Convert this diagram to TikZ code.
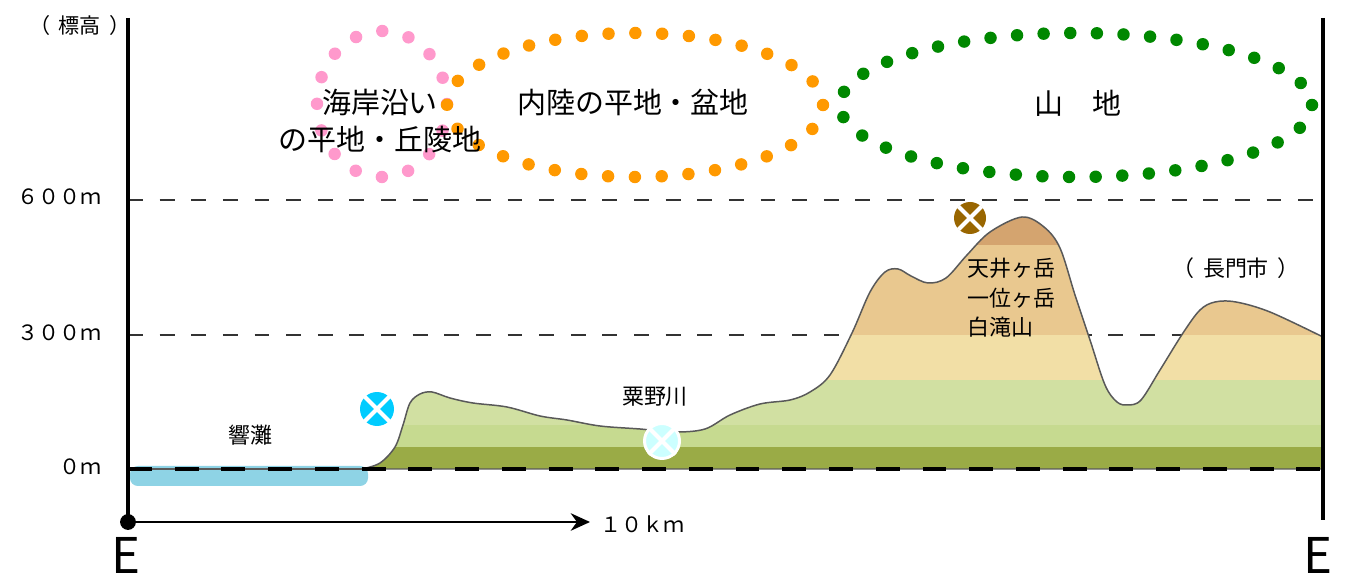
\documentclass[tikz,border=0pt]{standalone}
\usepackage{fontspec}
\setmainfont{Noto Sans CJK JP}
\usetikzlibrary{arrows.meta}

\definecolor{coastpink}{HTML}{FF99CC}
\definecolor{inlandorange}{HTML}{FF9900}
\definecolor{mountgreen}{HTML}{008800}
\definecolor{seablue}{HTML}{8ED3E5}
\definecolor{bandA}{HTML}{9AAB46}
\definecolor{bandB}{HTML}{C6DA90}
\definecolor{bandC}{HTML}{D1E0A2}
\definecolor{bandD}{HTML}{F2DFA6}
\definecolor{bandE}{HTML}{E9C88F}
\definecolor{bandF}{HTML}{D4A46F}
\definecolor{nadacyan}{HTML}{00CCFF}
\definecolor{rivercyan}{HTML}{CCFFFF}
\definecolor{peakbrown}{HTML}{996600}

\newcommand{\wideparen}[1]{（\hspace{5pt}#1\hspace{5pt}）}

\tikzset{
  frameline/.style={line width=2.3pt},
  heightline/.style={black!80, line width=0.8pt, dash pattern=on 8.5pt off 9.5pt},
  sealevel/.style={line width=2.8pt, dash pattern=on 13.6pt off 13pt},
  ridgeline/.style={draw=black!65, line width=0.85pt},
  dotring/.style={line width=7.1pt, line cap=round, dash pattern=on 0pt off #1},
  spot/.style={circle, inner sep=0pt, minimum size=#1},
  bigtext/.style={font=\fontsize{16.5}{21}\selectfont},
  smalltext/.style={font=\fontsize{12.5}{16.7}\selectfont},
  scaletext/.style={font=\fontsize{12}{14}\selectfont},
}

\begin{document}
\begin{tikzpicture}[x=0.02cm, y=-0.02cm]
\useasboundingbox (0,0) rectangle (1349,580);

% dotted rings for the three zones
\draw[dotring=15.45pt, coastpink] (382,104) ellipse [x radius=65, y radius=73];
\draw[dotring=15.27pt, inlandorange] (635,105) ellipse [x radius=188, y radius=72];
\draw[dotring=15.16pt, mountgreen] (1076,105) ellipse [x radius=236, y radius=72];
\node[bigtext, align=center] (coast) at (380,121) {海岸沿い\\の平地・丘陵地};
\node[bigtext] (inland) at (633,103) {内陸の平地・盆地};
\node[bigtext] (mount) at (1078,103) {山　地};

% height lines
\draw[heightline] (128,200) -- (1323,200);
\draw[heightline] (128,335) -- (1323,335);
\node[scaletext, anchor=east] (h600) at (108,197) {６００ｍ};
\node[scaletext, anchor=east] (h300) at (108,333) {３００ｍ};
\node[scaletext, anchor=east] (h0) at (108,467) {０ｍ};
\node[scaletext] (hlabel) at (80,25) {\wideparen{標高}};

% sea
\fill[seablue, rounded corners=4.5pt] (130,466) rectangle (368,486);

% ground profile
\path[save path=\ridge] plot[smooth, tension=0.55] coordinates {
  (362,469) (380,463) (395,447) (403,425) (410,403) (420,394) (432,392)
  (450,398) (473,403) (507,407) (540,416) (567,420) (600,426) (640,429)
  (675,432) (705,429) (730,415) (760,404) (790,400) (810,392) (830,375)
  (852,333) (870,292) (885,272) (898,269) (911,276) (928,283) (946,278)
  (967,255) (990,232) (1022,217) (1044,227) (1060,248) (1075,295)
  (1090,340) (1105,385) (1117,402) (1128,405) (1141,400) (1160,370)
  (1183,333) (1200,310) (1215,302) (1236,302) (1270,312) (1323,337)}
  -- (1323,469) -- cycle;
\begin{scope}
  \clip[use path=\ridge];
  \fill[bandA] (128,447) rectangle (1323,470);
  \fill[bandB] (128,425) rectangle (1323,447);
  \fill[bandC] (128,380) rectangle (1323,425);
  \fill[bandD] (128,335) rectangle (1323,380);
  \fill[bandE] (128,245) rectangle (1323,335);
  \fill[bandF] (128,150) rectangle (1323,245);
\end{scope}
\draw[ridgeline, use path=\ridge];
\draw[ridgeline] (128,469) -- (362,469);
\draw[sealevel] (128,469) -- (1323,469);

% place marks
\node[spot=0.68cm, fill=nadacyan] (nada) at (377,409) {};
\node[spot=0.70cm, fill=rivercyan, draw=white, line width=1.7pt] (river) at (662,441) {};
\node[spot=0.64cm, fill=peakbrown] (peak) at (970,218) {};
\foreach \m in {nada, river, peak}
  \draw[white, line width=2.3pt] (\m.north east) -- (\m.south west)
    (\m.north west) -- (\m.south east);

\node[smalltext] (sea) at (250,435) {響灘};
\node[smalltext] (rivername) at (655,397) {粟野川};
\node[smalltext, anchor=west, align=left] (peaks) at (961,298) {天井ヶ岳\\一位ヶ岳\\白滝山};
\node[smalltext] (city) at (1236,268) {\wideparen{長門市}};

% frame and distance
\node[circle, fill, inner sep=0pt, minimum size=9pt] (origin) at (128,522) {};
\draw[frameline] (128,18) -- (origin.center);
\draw[frameline] (1323,18) -- (1323,520);
\coordinate (tenkm) at (590,522);
\draw[line width=1.2pt, -{Stealth[length=11pt, width=10pt]}] (origin.center) -- (tenkm);
\node[scaletext, anchor=west] (dist) at (594,524) {１０ｋｍ};
\node[font=\fontsize{28}{28}\selectfont, anchor=base, inner sep=0pt] (eleft) at (126,574) {E};
\node[font=\fontsize{28}{28}\selectfont, anchor=base, inner sep=0pt] (eright) at (1318,574) {E};
\end{tikzpicture}
\end{document}
